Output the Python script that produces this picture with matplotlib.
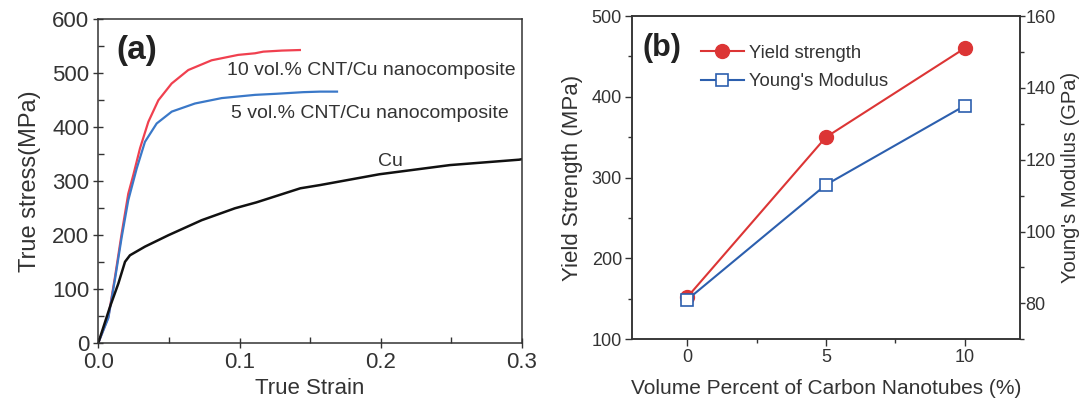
import matplotlib
matplotlib.use("Agg")
import matplotlib.pyplot as plt
from matplotlib.ticker import MultipleLocator, FormatStrFormatter

plt.rcParams['font.family'] = ['Liberation Sans', 'DejaVu Sans']

# ---- Panel (a) data: true stress-strain curves ----
strain_10 = [0.0, 0.0071, 0.0118, 0.0165, 0.0212, 0.0248, 0.0295, 0.0354, 0.0425, 0.0519,
             0.0637, 0.0802, 0.099, 0.111, 0.1168, 0.13, 0.1427]
stress_10 = [0, 48, 122, 202, 276, 311, 360, 409, 449, 480, 505, 523, 533, 536, 539, 541, 542]

strain_5 = [0.0, 0.0071, 0.0118, 0.0165, 0.0212, 0.0272, 0.033, 0.0413, 0.052, 0.0684,
            0.0873, 0.111, 0.126, 0.145, 0.157, 0.169]
stress_5 = [0, 46, 118, 195, 264, 323, 372, 406, 428, 443, 453, 459, 461, 464, 465, 465]

strain_cu = [0.0, 0.0083, 0.0142, 0.0189, 0.0224, 0.033, 0.0495, 0.0732, 0.0967, 0.112,
             0.143, 0.157, 0.199, 0.249, 0.298, 0.3]
stress_cu = [0, 67, 110, 150, 162, 178, 199, 227, 249, 260, 286, 292, 312, 329, 339, 340]

label_10 = "10 vol.% CNT/Cu nanocomposite"
label_5 = "5 vol.% CNT/Cu nanocomposite"
label_cu = "Cu"

# ---- Panel (b) data ----
vol_percent = [0, 5, 10]
yield_strength = [152, 350, 460]
youngs_modulus = [81, 113, 135]

fig = plt.figure(figsize=(10.83, 4.12), dpi=100)
dark = '#333333'

# ---------------- Panel (a) ----------------
axa = fig.add_axes([0.0908, 0.168, 0.482 - 0.0908, 0.9546 - 0.168])
axa.plot(strain_10, stress_10, color='#f0404f', lw=1.6)
axa.plot(strain_5, stress_5, color='#3a78c8', lw=1.6)
axa.plot(strain_cu, stress_cu, color='#111111', lw=1.8)
axa.set_xlim(0, 0.3)
axa.set_ylim(0, 600)
axa.xaxis.set_major_locator(MultipleLocator(0.1))
axa.xaxis.set_minor_locator(MultipleLocator(0.05))
axa.yaxis.set_major_locator(MultipleLocator(100))
axa.yaxis.set_minor_locator(MultipleLocator(50))
axa.xaxis.set_major_formatter(FormatStrFormatter('%.1f'))
axa.tick_params(which='major', direction='inout', length=7, width=1, labelsize=16,
                color=dark, labelcolor=dark, pad=3)
axa.tick_params(which='minor', direction='in', length=4, width=1, color=dark)
for s in axa.spines.values():
    s.set_color(dark)
    s.set_linewidth(1.1)
axa.set_xlabel("True Strain", fontsize=16, color=dark, labelpad=4)
axa.set_ylabel("True stress(MPa)", fontsize=17, color=dark, labelpad=8)
axa.text(0.027, 542, "(a)", fontsize=24, fontweight='bold', color='#222222', va='center', ha='center')
axa.text(0.091, 505, label_10, fontsize=14, color=dark, va='center', ha='left')
axa.text(0.094, 425, label_5, fontsize=14, color=dark, va='center', ha='left')
axa.text(0.207, 336, label_cu, fontsize=14, color=dark, va='center', ha='center')

# ---------------- Panel (b) ----------------
axb = fig.add_axes([0.5833, 0.1765, 0.9418 - 0.5833, 0.961 - 0.1765])
axb2 = axb.twinx()
red = '#dc3535'
blue = '#2c5fae'
l1, = axb.plot(vol_percent, yield_strength, color=red, lw=1.5, marker='o',
               markersize=10, markerfacecolor=red, markeredgecolor=red, label='Yield strength')
l2, = axb2.plot(vol_percent, youngs_modulus, color=blue, lw=1.5, marker='s',
                markersize=9, markerfacecolor='white', markeredgecolor=blue, markeredgewidth=1.2,
                label="Young's Modulus")
axb.set_xlim(-2, 12)
axb.set_ylim(100, 500)
axb2.set_ylim(70, 160)
axb.xaxis.set_major_locator(MultipleLocator(5))
axb.xaxis.set_minor_locator(MultipleLocator(2.5))
axb.yaxis.set_major_locator(MultipleLocator(100))
axb.yaxis.set_minor_locator(MultipleLocator(50))
axb2.yaxis.set_minor_locator(MultipleLocator(10))
axb2.set_yticks([80, 100, 120, 140, 160])
for ax in (axb, axb2):
    ax.tick_params(which='major', direction='out', length=5, width=1, labelsize=13,
                   color=dark, labelcolor=dark, pad=2)
    ax.tick_params(which='minor', direction='out', length=3, width=1, color=dark)
    for s in ax.spines.values():
        s.set_color(dark)
        s.set_linewidth(1.1)
axb2.tick_params(which='major', length=3.5, pad=0.5)
axb.set_xlabel("Volume Percent of Carbon Nanotubes (%)", fontsize=15, color=dark, labelpad=9)
axb.set_ylabel("Yield Strength (MPa)", fontsize=16, color=dark, labelpad=6)
axb2.set_ylabel("Young's Modulus (GPa)", fontsize=14.5, color=dark, labelpad=3.5)
axb.text(-0.91, 461, "(b)", fontsize=22, fontweight='bold', color='#222222', va='center', ha='center')
leg = axb.legend(handles=[l1, l2], loc='upper left', bbox_to_anchor=(0.16, 0.934), frameon=False,
                 fontsize=13.3, handlelength=2.3, handletextpad=0.3, labelspacing=0.62, borderaxespad=0)
for t in leg.get_texts():
    t.set_color(dark)

fig.savefig("out.png", dpi=100)
